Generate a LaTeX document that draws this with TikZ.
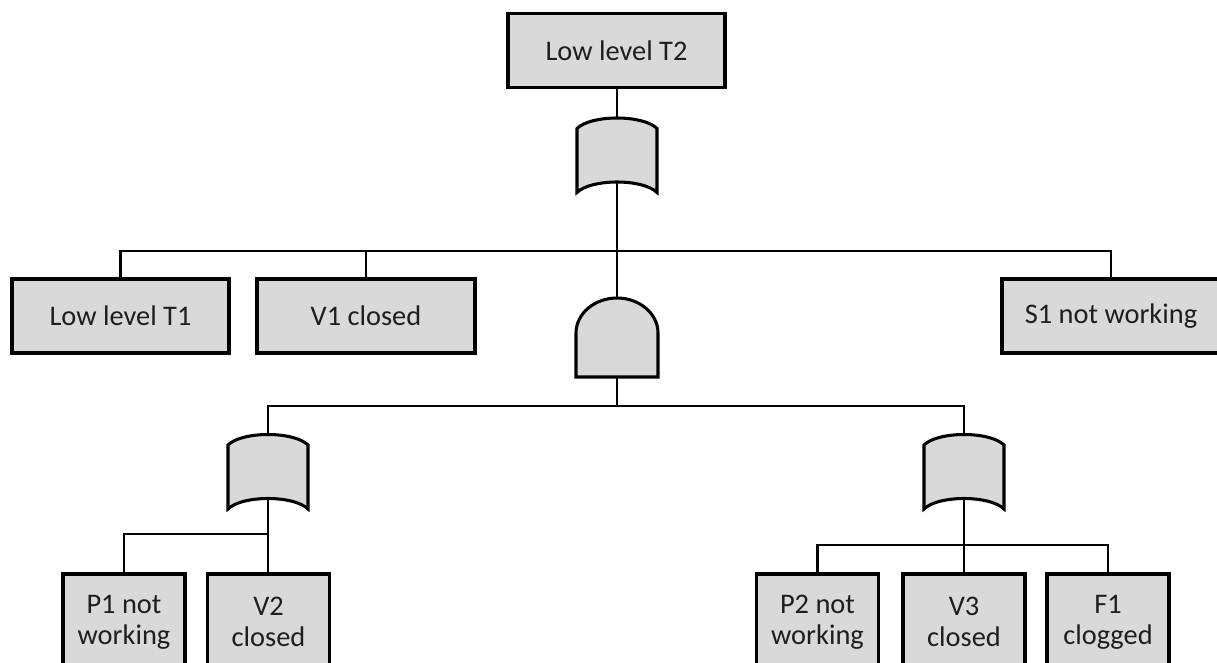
\documentclass[tikz,border=0pt]{standalone}
\usepackage{fontspec}
\setmainfont{Carlito}
\usetikzlibrary{calc}
\definecolor{boxfill}{HTML}{D9D9D9}
\definecolor{txt}{HTML}{1E1E1E}
\begin{document}
\begin{tikzpicture}[x=0.75pt,y=-0.75pt,
  evbox/.style={draw=black, fill=boxfill, line width=2.3pt, text=txt,
    font=\fontsize{21.3}{23.5}\selectfont, align=center, inner sep=0pt, outer sep=0pt},
  wide/.style={evbox, minimum width=217*0.75pt, minimum height=74*0.75pt},
  narrow/.style={evbox, minimum width=122*0.75pt, minimum height=96*0.75pt},
  gatebox/.style={draw=none, inner sep=0pt, outer sep=0pt,
    minimum width=80*0.75pt, minimum height=75*0.75pt},
  andbox/.style={draw=none, inner sep=0pt, outer sep=0pt,
    minimum width=82*0.75pt, minimum height=79*0.75pt},
  gatestyle/.style={draw=black, fill=boxfill, line width=2.3pt, line join=miter},
  conn/.style={draw=black, line width=2.1pt}]
\useasboundingbox (0,0) rectangle (1217,662);
\clip (0,0) rectangle (1217,662);

% events
\node[wide] (T2) at (616.5,50.5) {Low level T2};
\node[wide] (T1) at (120.5,316) {Low level T1};
\node[wide, minimum width=218*0.75pt] (V1) at (366,316) {V1 closed};
\node[wide, minimum width=218*0.75pt] (S1) at (1111,316) {S1 not working};
\node[narrow] (P1) at (124,622) {P1 not\\working};
\node[narrow] (V2) at (268.5,622) {V2\\closed};
\node[narrow] (P2) at (817.5,622) {P2 not\\working};
\node[narrow] (V3) at (964,622) {V3\\closed};
\node[narrow] (F1) at (1108,622) {F1\\clogged};

% gates (placeholders)
\node[gatebox] (G1) at (617,155) {};
\node[andbox]  (G2) at (617,337.5) {};
\node[gatebox] (G3) at (268,471.5) {};
\node[gatebox] (G4) at (964,471.5) {};

% bus points
\coordinate (B1) at (617,251);
\coordinate (B2) at (617,406);
\coordinate (B3) at (268,534);
\coordinate (B4) at (964,545);

% connectors
\draw[conn] (G1.north |- T2.south) -- (G1.north);
\draw[conn] (G1.center) -- (B1);
\draw[conn] (B1) -| (T1.north);
\draw[conn] (B1) -| (V1.north);
\draw[conn] (B1) -| (S1.north);
\draw[conn] (B1) -- (G2.north);
\draw[conn] (G2.center) -- (B2);
\draw[conn] (B2) -| (G3.north);
\draw[conn] (B2) -| (G4.north);
\draw[conn] (G3.center) -- (B3);
\draw[conn] (B3) -| (P1.north);
\draw[conn] (B3) -- (B3 |- V2.north);
\draw[conn] (G4.center) -- (B4);
\draw[conn] (B4) -| (P2.north);
\draw[conn] (B4) -- (B4 |- V3.north);
\draw[conn] (B4) -| (F1.north);

% OR gates
\foreach \g in {G1,G3,G4}{
  \draw[gatestyle] ($(\g.north west)+(0,11)$)
    .. controls ($(\g.north west)+(14,-3)$) and ($(\g.north east)+(-14,-3)$) .. ($(\g.north east)+(0,11)$)
    -- (\g.south east)
    .. controls ($(\g.south east)+(-14,-14)$) and ($(\g.south west)+(14,-14)$) .. (\g.south west)
    -- cycle;
}
% AND gate
\draw[gatestyle] (G2.south west) -- ($(G2.north west)+(0,35)$)
  .. controls ($(G2.north west)+(0,15.7)$) and ($(G2.north)+(-22.6,0)$) .. (G2.north)
  .. controls ($(G2.north)+(22.6,0)$) and ($(G2.north east)+(0,15.7)$) .. ($(G2.north east)+(0,35)$)
  -- (G2.south east) -- cycle;
\end{tikzpicture}
\end{document}
